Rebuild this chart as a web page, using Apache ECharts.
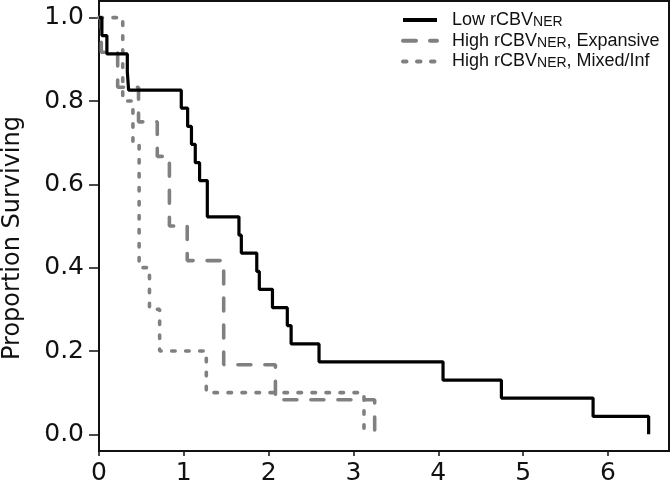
<!DOCTYPE html>
<html>
<head>
<meta charset="utf-8">
<script src="https://cdn.jsdelivr.net/npm/echarts@6/dist/echarts.min.js"></script>
<style>
html,body{margin:0;padding:0;background:#fff;}
#chart{width:672px;height:486px;}
</style>
</head>
<body>
<div id="chart"></div>
<script>
// Kaplan-Meier event times (years) and survival after each event
const seriesNames = ['Low rCBVNER', 'High rCBVNER, Expansive', 'High rCBVNER, Mixed/Inf'];
const lowTimes = [0.034, 0.093, 0.334, 0.349, 0.97, 1.045, 1.09, 1.135, 1.186, 1.277, 1.65, 1.678, 1.86, 1.89, 2.045, 2.22, 2.265, 2.594, 4.056, 4.744, 5.825, 6.48];
const lowSurv  = [0.957, 0.913, 0.870, 0.826, 0.783, 0.739, 0.696, 0.652, 0.609, 0.522, 0.478, 0.435, 0.391, 0.348, 0.304, 0.261, 0.217, 0.174, 0.130, 0.087, 0.043, 0.0];
const expTimes = [0.027, 0.22, 0.466, 0.687, 0.83, 1.04, 1.47, 2.08, 3.25];
const expSurv  = [0.917, 0.833, 0.750, 0.667, 0.500, 0.417, 0.167, 0.083, 0.0];
const mixTimes = [0.28, 0.40, 0.473, 0.595, 0.715, 1.265, 3.124];
const mixSurv  = [0.8, 0.7, 0.4, 0.3, 0.2, 0.1, 0.0];
const xTicks = [0, 1, 2, 3, 4, 5, 6];
const yTicks = [0, 0.2, 0.4, 0.6, 0.8, 1.0];
const yTitle = 'Proportion Surviving';

function km(times, surv) {
  const d = [[0, 1]];
  for (let i = 0; i < times.length; i++) d.push([times[i], surv[i]]);
  return d;
}

const legendRich = {
  sp: {width: 10},
  n: {fontSize: 18, lineHeight: 18, verticalAlign: 'bottom', fontFamily: 'Liberation Sans', color: '#111'},
  s: {fontSize: 14, lineHeight: 14, verticalAlign: 'bottom', fontFamily: 'Liberation Sans', color: '#111'}
};
const legendFmt = {
  'Low rCBVNER': '{sp| }{n|Low rCBV}{s|NER}',
  'High rCBVNER, Expansive': '{sp| }{n|High rCBV}{s|NER}{n|, Expansive}',
  'High rCBVNER, Mixed/Inf': '{sp| }{n|High rCBV}{s|NER}{n|, Mixed/Inf}'
};

const chart = echarts.init(document.getElementById('chart'), null, {renderer: 'canvas'});
chart.setOption({
  animation: false,
  backgroundColor: '#fff',
  grid: {left: 99, right: 3, top: 1, bottom: 34, show: true, borderColor: '#111', borderWidth: 2, backgroundColor: 'transparent'},
  legend: {
    orient: 'vertical', left: 401, top: 11, padding: 0,
    itemWidth: 34, itemHeight: 18, itemGap: 2.7,
    data: seriesNames,
    itemStyle: {opacity: 0},
    lineStyle: {width: 4},
    formatter: n => legendFmt[n],
    textStyle: {rich: legendRich, fontFamily: 'Liberation Sans', fontSize: 18, color: '#111'}
  },
  xAxis: {
    type: 'value', min: 0, max: 6.72,
    axisLine: {show: true, onZero: false, lineStyle: {color: '#111', width: 2}},
    axisTick: {show: true, length: 5, lineStyle: {color: '#111', width: 1.5}, customValues: xTicks},
    axisLabel: {customValues: xTicks, margin: 10, color: '#111', fontFamily: 'DejaVu Sans', fontSize: 25},
    splitLine: {show: false}
  },
  yAxis: {
    type: 'value', min: -0.04, max: 1.04,
    axisLine: {show: true, onZero: false, lineStyle: {color: '#111', width: 2}},
    axisTick: {show: true, length: 10, lineStyle: {color: '#111', width: 1.5}, customValues: yTicks},
    axisLabel: {customValues: yTicks, margin: 15, color: '#111', fontFamily: 'DejaVu Sans', fontSize: 25,
      formatter: v => v.toFixed(1)},
    splitLine: {show: false}
  },
  graphic: [{
    type: 'text', x: 13, y: 238, rotation: Math.PI / 2,
    style: {text: yTitle, fontFamily: 'DejaVu Sans', fontSize: 24, fill: '#111',
      align: 'center', verticalAlign: 'middle', textAlign: 'center', textVerticalAlign: 'middle'}
  }],
  series: [
    {name: seriesNames[0], type: 'line', step: 'end', symbol: 'none', z: 5,
      data: km(lowTimes, lowSurv),
      lineStyle: {color: '#000', width: 3.2}, itemStyle: {color: '#000'}},
    {name: seriesNames[1], type: 'line', step: 'end', symbol: 'none', z: 3,
      data: km(expTimes, expSurv),
      lineStyle: {color: '#808080', width: 3.6, type: [13, 14], cap: 'round'}, itemStyle: {color: '#808080'}},
    {name: seriesNames[2], type: 'line', step: 'end', symbol: 'none', z: 3,
      data: km(mixTimes, mixSurv),
      lineStyle: {color: '#808080', width: 3.6, type: [3.5, 10.5], cap: 'round'}, itemStyle: {color: '#808080'}}
  ]
});
</script>
</body>
</html>
